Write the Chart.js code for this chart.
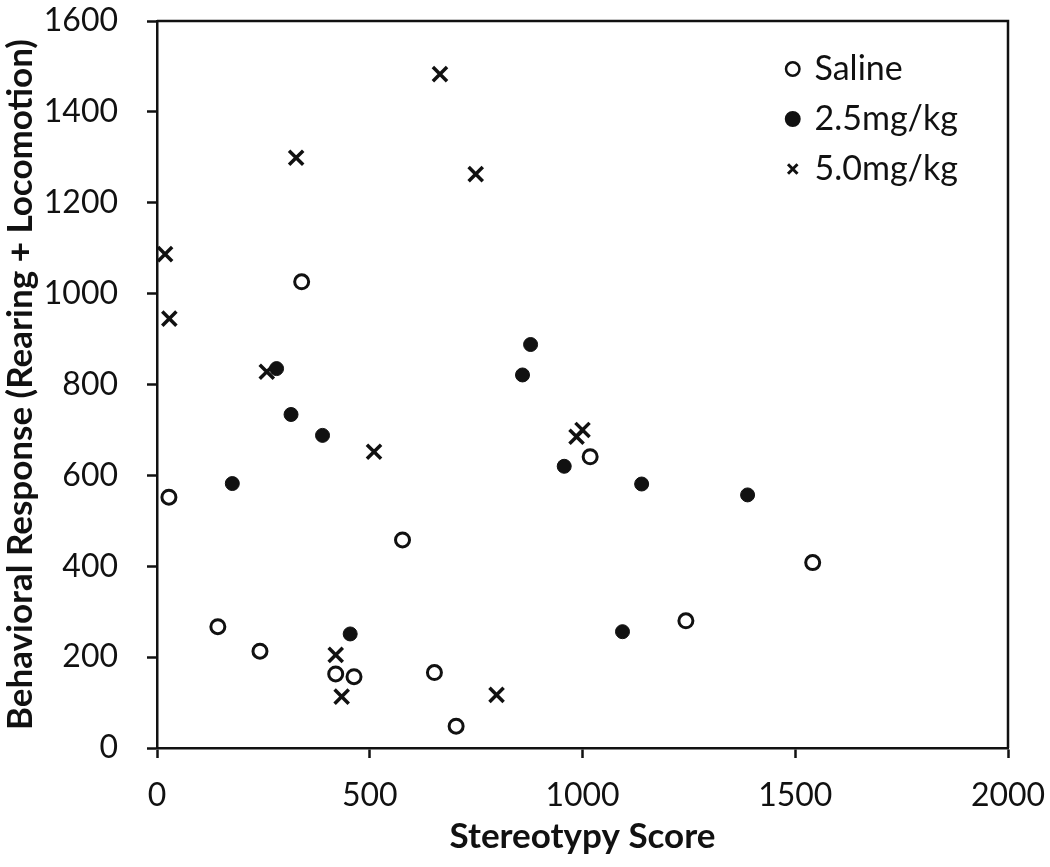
<!DOCTYPE html>
<html>
<head>
<meta charset="utf-8">
<script src="https://cdn.jsdelivr.net/npm/chart.js@4.4.1/dist/chart.umd.min.js"></script>
<style>
  html, body { margin: 0; padding: 0; background: #fff; }
  canvas { display: block; }
</style>
</head>
<body>
<canvas id="myChart" width="1050" height="867"></canvas>
<script>
// values
const salineX = [28, 340, 143, 242, 420, 463, 577, 652, 703, 1018, 1243, 1541];
const salineY = [552, 1026, 267, 213, 163, 157, 458, 166, 48, 641, 280, 408];

const lowDoseX = [281, 315, 389, 177, 454, 859, 878, 957, 1139, 1388, 1094];
const lowDoseY = [835, 734, 688, 582, 251, 821, 888, 620, 581, 557, 256];

const highDoseX = [665, 327, 749, 19, 29, 258, 510, 420, 434, 798, 986, 1000];
const highDoseY = [1483, 1299, 1263, 1087, 945, 828, 652, 205, 113, 117, 685, 700];

const seriesNames = ["Saline", "2.5mg/kg", "5.0mg/kg"];
const xTicks = [0, 500, 1000, 1500, 2000];
const yTicks = [0, 200, 400, 600, 800, 1000, 1200, 1400, 1600];

const ink = "#111";

const toPoints = (xs, ys) => xs.map((x, i) => ({ x: x, y: ys[i] }));

// box around the plot area (top + right sides)
const frame = {
  id: "frame",
  beforeDatasetsDraw(chart) {
    const { ctx, chartArea } = chart;
    ctx.save();
    ctx.strokeStyle = ink;
    ctx.lineWidth = 2.5;
    ctx.beginPath();
    ctx.moveTo(chartArea.left, chartArea.top);
    ctx.lineTo(chartArea.right, chartArea.top);
    ctx.lineTo(chartArea.right, chartArea.bottom);
    ctx.stroke();
    ctx.restore();
  },
};

// move the legend into the top right corner of the plot
const legendPlace = {
  id: "legendPlace",
  afterLayout(chart) {
    const lg = chart.legend;
    const w = lg.width;
    const h = lg.height;
    lg.left = 772;
    lg.top = 36;
    lg.right = lg.left + w;
    lg.bottom = lg.top + h;
  },
};

// fixed axis sizes, no extra room for the end labels
const fixSize = (size) => (scale) => {
  if (scale.isHorizontal()) scale.height = size;
  else scale.width = size;
  scale.paddingTop = 0;
  scale.paddingBottom = 0;
  scale.paddingLeft = 0;
  scale.paddingRight = 0;
};

const data = {
  datasets: [
    {
      label: seriesNames[0],
      data: toPoints(salineX, salineY),
      pointStyle: "circle",
      pointRadius: 7,
      pointBorderWidth: 3,
      pointBackgroundColor: "#fff",
      pointBorderColor: ink,
    },
    {
      label: seriesNames[1],
      data: toPoints(lowDoseX, lowDoseY),
      pointStyle: "circle",
      pointRadius: 7,
      pointBorderWidth: 1,
      pointBackgroundColor: ink,
      pointBorderColor: ink,
    },
    {
      label: seriesNames[2],
      data: toPoints(highDoseX, highDoseY),
      pointStyle: "crossRot",
      pointRadius: 10,
      pointBorderWidth: 3.5,
      pointBackgroundColor: ink,
      pointBorderColor: ink,
    },
  ],
};

const config = {
  type: "scatter",
  data: data,
  options: {
    responsive: false,
    animation: false,
    devicePixelRatio: 1,
    layout: {
      padding: { top: 21, right: 42, left: 0, bottom: 0 },
    },
    plugins: {
      tooltip: { enabled: false },
      legend: {
        position: "chartArea",
        align: "start",
        labels: {
          usePointStyle: true,
          boxWidth: 9.5,
          boxHeight: 9.5,
          padding: 16,
          color: ink,
          font: { family: "Lato", size: 34 },
          generateLabels: (chart) => {
            const items = Chart.defaults.plugins.legend.labels.generateLabels(chart);
            items.forEach((it, i) => {
              it.lineWidth = i === 2 ? 3 : 2.5;
            });
            return items;
          },
        },
      },
    },
    scales: {
      x: {
        type: "linear",
        min: 0,
        max: 2000,
        afterBuildTicks: (scale) => {
          scale.ticks = xTicks.map((v) => ({ value: v }));
        },
        afterFit: fixSize(119),
        ticks: {
          color: ink,
          padding: 18,
          font: { family: "Lato", size: 32 },
          callback: (value) => String(value),
        },
        grid: {
          display: true,
          drawOnChartArea: false,
          drawTicks: true,
          tickLength: 10,
          tickWidth: 2.5,
          tickColor: ink,
        },
        border: { display: true, color: ink, width: 2.5 },
        title: {
          display: true,
          text: "Stereotypy Score",
          color: ink,
          font: { family: "Lato", size: 35, weight: "bold" },
          padding: { top: 0, bottom: 9 },
        },
      },
      y: {
        type: "linear",
        min: 0,
        max: 1600,
        afterBuildTicks: (scale) => {
          scale.ticks = yTicks.map((v) => ({ value: v }));
        },
        afterFit: fixSize(157),
        ticks: {
          color: ink,
          padding: 29,
          font: { family: "Lato", size: 32 },
          callback: (value) => String(value),
        },
        grid: {
          display: true,
          drawOnChartArea: false,
          drawTicks: true,
          tickLength: 10,
          tickWidth: 2.5,
          tickColor: ink,
        },
        border: { display: true, color: ink, width: 2.5 },
        title: {
          display: true,
          text: "Behavioral Response (Rearing + Locomotion)",
          color: ink,
          font: { family: "Lato", size: 35, weight: "bold" },
          padding: { top: 0, bottom: 0 },
        },
      },
    },
  },
  plugins: [frame, legendPlace],
};

const myChart = new Chart(document.getElementById("myChart"), config);
</script>
</body>
</html>
